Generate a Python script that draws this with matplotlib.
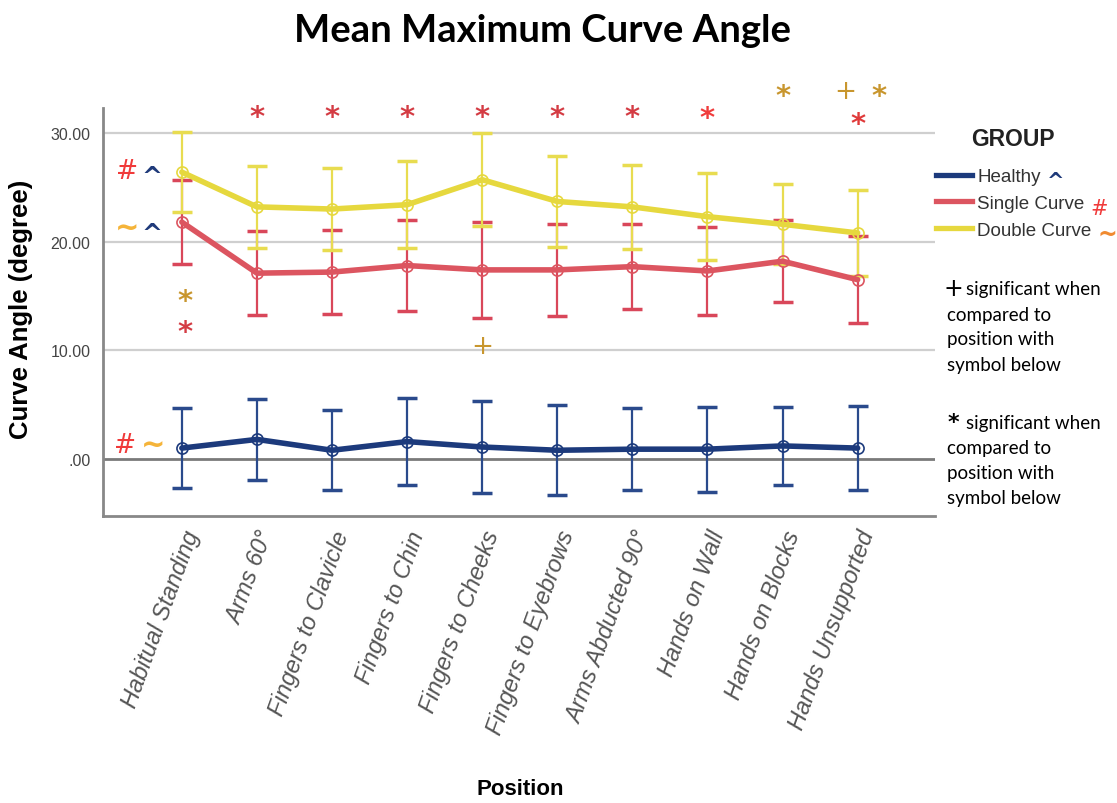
import matplotlib.pyplot as plt
from matplotlib.lines import Line2D

positions = ["Habitual Standing", "Arms 60°", "Fingers to Clavicle", "Fingers to Chin",
             "Fingers to Cheeks", "Fingers to Eyebrows", "Arms Abducted 90°",
             "Hands on Wall", "Hands on Blocks", "Hands Unsupported"]

healthy = [1.0, 1.8, 0.8, 1.6, 1.1, 0.8, 0.9, 0.9, 1.2, 1.0]
healthy_err = [3.7, 3.7, 3.7, 4.0, 4.2, 4.15, 3.75, 3.9, 3.6, 3.85]

single = [21.8, 17.1, 17.2, 17.8, 17.4, 17.4, 17.7, 17.3, 18.2, 16.5]
single_err = [3.85, 3.85, 3.85, 4.2, 4.4, 4.25, 3.9, 4.05, 3.8, 4.0]

double = [26.4, 23.2, 23.0, 23.4, 25.7, 23.7, 23.2, 22.3, 21.6, 20.8]
double_err = [3.7, 3.75, 3.75, 4.0, 4.3, 4.2, 3.85, 4.0, 3.7, 3.95]

yticks = [0, 10, 20, 30]
ytick_labels = [".00", "10.00", "20.00", "30.00"]

# significance marks: (position index, value, symbol, colour)
top_marks = [(1, 32.0, "*", "#d43c44"), (2, 32.0, "*", "#d43c44"), (3, 32.0, "*", "#d43c44"),
             (4, 32.0, "*", "#d43c44"), (5, 32.0, "*", "#d43c44"), (6, 32.0, "*", "#d43c44"),
             (7, 31.9, "*", "#f03c3c"), (8, 33.9, "*", "#c8962e"), (8.83, 33.9, "+", "#c8962e"),
             (9.29, 33.9, "*", "#c8962e"), (9, 31.3, "*", "#e03a3a")]
side_marks = [(-0.73, 26.5, "#", "#f03a3a"), (-0.40, 26.5, "^", "#1f3a7a"),
              (-0.73, 21.3, "~", "#f5b43a"), (-0.40, 21.3, "^", "#1f3a7a"),
              (0.04, 15.0, "*", "#c8962e"), (0.04, 12.2, "*", "#d43c44"),
              (-0.76, 1.3, "#", "#f03a3a"), (-0.38, 1.3, "~", "#f5b43a"),
              (4, 10.4, "+", "#c8962e")]

W, H = 1117, 804
fig = plt.figure(figsize=(W / 100, H / 100), dpi=100)
ax = fig.add_axes([103 / W, 1 - 517 / H, (935 - 103) / W, (517 - 109) / H])

x = list(range(len(positions)))
series = [("Healthy", healthy, healthy_err, "#1c3a7c", "#2a4a8c"),
          ("Single Curve", single, single_err, "#dc5560", "#d9475a"),
          ("Double Curve", double, double_err, "#e6d83e", "#e8dc50")]
handles = []
for name, vals, errs, col, ecol in series:
    ax.errorbar(x, vals, yerr=errs, fmt="none", ecolor=ecol, elinewidth=1.6,
                capsize=7, capthick=2.5, zorder=3)
    ax.plot(x, vals, color=col, lw=4, marker="o", ms=8, mfc="none",
            mec=col, mew=1.2, zorder=4, solid_capstyle="round")
    handles.append(Line2D([0], [0], color=col, lw=3.8))

ax.set_xlim(-1.05, 10.03)
ax.set_ylim(-5.25, 32.3)
ax.set_yticks(yticks)
ax.set_yticklabels(ytick_labels, fontsize=11.5, color="#444444", family="Liberation Sans")
ax.set_xticks(x)
ax.set_xticklabels(positions, rotation=70, ha="right", va="top", rotation_mode="anchor",
                   fontsize=17, style="italic", color="#555555", family="Liberation Sans")
ax.tick_params(axis="both", length=0)
ax.tick_params(axis="y", pad=9)
ax.tick_params(axis="x", pad=8)
for y in [10, 20, 30]:
    ax.axhline(y, color="#cfcfcf", lw=1.6, zorder=1)
ax.axhline(0, color="#7a7a7a", lw=2, zorder=2)
for s in ["top", "right"]:
    ax.spines[s].set_visible(False)
for s in ["left", "bottom"]:
    ax.spines[s].set_color("#888888")
    ax.spines[s].set_linewidth(2)

ax.set_ylabel("Curve Angle (degree)", fontsize=18.5, fontweight="bold",
              family="Liberation Sans")
ax.yaxis.set_label_coords(-70 / (935 - 103), 0.51)
fig.text(520 / W, 1 - 790 / H, "Position", fontsize=16, fontweight="bold",
         family="Liberation Sans", ha="center", va="center")
fig.text(542 / W, 1 - 31 / H, "Mean Maximum Curve Angle", fontsize=27.5, fontweight="bold",
         family="Lato", ha="center", va="center")

for xi, yv, sym, col in top_marks + side_marks:
    if sym == "*":
        ax.text(xi, yv - 0.5, sym, color=col, fontsize=21, fontweight="bold",
                ha="center", va="center", clip_on=False, zorder=5)
    elif sym == "~":
        ax.text(xi, yv, sym, color=col, fontsize=21, fontweight="bold",
                ha="center", va="center", clip_on=False, zorder=5)
    elif sym == "^":
        ax.text(xi, yv - 0.5, sym, color=col, fontsize=18, fontweight="bold",
                ha="center", va="center", clip_on=False, zorder=5)
    else:
        ax.text(xi, yv, sym, color=col, fontsize=19, ha="center", va="center",
                clip_on=False, zorder=5)

fig.text(1013 / W, 1 - 140 / H, "GROUP", fontsize=16.5, fontweight="bold",
         family="Liberation Sans", ha="center", va="center", color="#222222")
leg = ax.legend(handles, ["Healthy", "Single Curve", "Double Curve"],
                loc="upper left", bbox_to_anchor=(936 / W, 1 - 169 / H),
                bbox_transform=fig.transFigure, frameon=False, borderpad=0,
                borderaxespad=0, handlelength=1.92, handletextpad=0.27,
                labelspacing=0.52, prop={"family": "Liberation Sans", "size": 13.5})
for t in leg.get_texts():
    t.set_color("#333333")

fig.text(1056 / W, 1 - 182 / H, "^", color="#1f3a7a", fontsize=15, fontweight="bold",
         ha="center", va="center")
fig.text(1099 / W, 1 - 209 / H, "#", color="#f03a3a", fontsize=15, ha="center", va="center")
fig.text(1107 / W, 1 - 235 / H, "~", color="#f08a30", fontsize=17, fontweight="bold",
         ha="center", va="center")

note_lines = ["significant when", "compared to", "position with", "symbol below"]
for sym, y0 in [("+", 290), ("*", 424)]:
    fig.text(953 / W, 1 - (y0 - 1) / H, sym, fontsize=17 if sym == "+" else 16,
             fontweight="bold" if sym == "*" else "normal",
             ha="center", va="center", color="black")
    for k, line in enumerate(note_lines):
        xx = 966 if k == 0 else 947
        fig.text(xx / W, 1 - (y0 + 25 * k) / H, line, fontsize=13.5, family="Lato",
                 ha="left", va="center", color="black")

fig.savefig("out.png", dpi=100)
